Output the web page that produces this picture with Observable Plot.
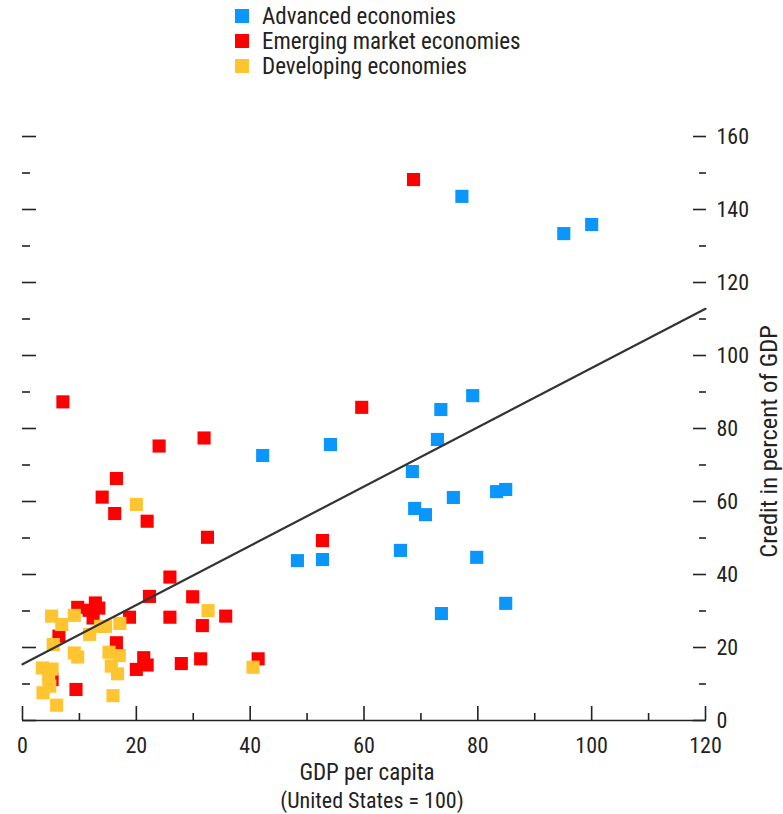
<!DOCTYPE html>
<html>
<head>
<meta charset="utf-8">
<script src="https://cdn.jsdelivr.net/npm/d3@7"></script>
<script src="https://cdn.jsdelivr.net/npm/@observablehq/plot@0.6"></script>
<style>
  html, body { margin: 0; padding: 0; background: #fff; }
  body { width: 783px; height: 814px; overflow: hidden;
         font-family: "Roboto Condensed", "Liberation Sans Narrow", sans-serif; color: #222; }
  #legend { height: 90px; position: relative; }
  .item { position: absolute; left: 235px; display: flex; align-items: center; height: 25px; line-height: 25px; font-size: 23px; white-space: nowrap; }
  .sw { width: 14px; height: 14px; margin-right: 13px; flex: none; }
</style>
</head>
<body>
<div id="legend"></div>
<div id="chart"></div>
<script>
// ---- data ----
const seriesNames = ["Advanced economies", "Emerging market economies", "Developing economies"];
const seriesColors = ["#0A96FA", "#FF0000", "#FFC530"];

const advancedX = [77.2, 95.1, 100, 42.2, 54.1, 73.5, 79.1, 72.9, 68.5, 68.9, 70.8, 75.7, 83.3, 84.9, 66.4, 48.3, 52.7, 79.8, 73.6, 84.9];
const advancedY = [143.6, 133.4, 135.9, 72.6, 75.6, 85.2, 89.0, 77.0, 68.2, 58.1, 56.4, 61.1, 62.7, 63.3, 46.6, 43.8, 44.1, 44.7, 29.3, 32.1];

const emergingX = [68.7, 59.6, 52.7, 7.1, 31.9, 24.0, 16.5, 14.0, 16.2, 21.9, 32.5, 25.9, 22.3, 29.9, 9.7, 12.8, 13.4, 11.7, 12.4, 18.8, 25.9, 35.7, 31.6, 6.4, 16.5, 21.3, 21.9, 20.0, 27.9, 31.3, 41.4, 9.4, 5.2];
const emergingY = [148.2, 85.8, 49.3, 87.3, 77.4, 75.2, 66.3, 61.2, 56.7, 54.6, 50.2, 39.3, 34.0, 33.9, 31.0, 32.2, 30.8, 30.2, 28.1, 28.3, 28.3, 28.6, 26.0, 23.1, 21.3, 17.2, 15.2, 14.0, 15.6, 16.9, 16.9, 8.5, 11.2];

const developingX = [20.0, 32.6, 5.1, 6.9, 9.1, 17.1, 13.7, 14.6, 11.8, 5.4, 9.1, 9.7, 15.2, 17.0, 15.6, 16.7, 3.5, 5.2, 4.6, 4.8, 3.6, 6.0, 15.9, 40.5];
const developingY = [59.2, 30.1, 28.6, 26.3, 28.8, 26.6, 25.8, 25.8, 23.6, 20.8, 18.5, 17.4, 18.7, 17.8, 14.9, 12.8, 14.4, 14.1, 11.4, 9.4, 7.6, 4.2, 6.8, 14.6];

const trendX = [0, 120];
const trendY = [15.4, 112.8];

const xMajor = [0, 20, 40, 60, 80, 100, 120];
const xMinor = [10, 30, 50, 70, 90, 110];
const yMajor = [0, 20, 40, 60, 80, 100, 120, 140, 160];
const yMinor = [10, 30, 50, 70, 90, 110, 130, 150];

const xLabel = ["GDP per capita", "(United States = 100)"];
const yLabel = "Credit in percent of GDP";

// ---- build ----
const FONT = '"Roboto Condensed", "Liberation Sans Narrow", sans-serif';
const toRows = (xs, ys) => xs.map((x, i) => ({x, y: ys[i]}));
const advanced = toRows(advancedX, advancedY);
const emerging = toRows(emergingX, emergingY);
const developing = toRows(developingX, developingY);
const trend = toRows(trendX, trendY);

const legend = document.getElementById("legend");
seriesNames.forEach((name, i) => {
  const d = document.createElement("div");
  d.className = "item";
  d.style.top = (3.5 + i * 25) + "px";
  d.innerHTML = `<span class="sw" style="background:${seriesColors[i]}"></span><span>${name}</span>`;
  legend.appendChild(d);
});

const blank = () => "";
const chart = Plot.plot({
  width: 783,
  height: 724,
  marginTop: 46,
  marginBottom: 94,
  marginLeft: 22,
  marginRight: 78,
  x: {domain: [0, 120]},
  y: {domain: [0, 160]},
  style: {fontFamily: FONT, fontSize: "22px", color: "#222", background: "#fff", overflow: "visible"},
  marks: [
    // x axis
    Plot.axisX({ticks: xMajor, tickSize: 0, tickPadding: 17, label: null, fontSize: 22}),
    Plot.axisX({ticks: xMajor, tickSize: -14, tickFormat: blank, label: null, strokeWidth: 1.6}),
    Plot.axisX({ticks: xMinor, tickSize: -7, tickFormat: blank, label: null, strokeWidth: 1.6}),
    // right y axis
    Plot.axisY({anchor: "right", ticks: yMajor, tickSize: 0, tickPadding: 11, label: null, fontSize: 22}),
    Plot.axisY({anchor: "right", ticks: yMajor, tickSize: -13, tickFormat: blank, label: null, strokeWidth: 1.6}),
    Plot.axisY({anchor: "right", ticks: yMinor, tickSize: -7, tickFormat: blank, label: null, strokeWidth: 1.6}),
    // left y axis (ticks only)
    Plot.axisY({anchor: "left", ticks: yMajor, tickSize: -14, tickFormat: blank, label: null, strokeWidth: 1.6}),
    Plot.axisY({anchor: "left", ticks: yMinor, tickSize: -8, tickFormat: blank, label: null, strokeWidth: 1.6}),
    Plot.ruleY([0], {stroke: "#222", strokeWidth: 1.6}),
    // points
    Plot.dot(advanced, {x: "x", y: "y", symbol: "square", r: 7.4, fill: seriesColors[0]}),
    Plot.dot(emerging, {x: "x", y: "y", symbol: "square", r: 7.4, fill: seriesColors[1]}),
    Plot.dot(developing, {x: "x", y: "y", symbol: "square", r: 7.4, fill: seriesColors[2]}),
    // trend line
    Plot.line(trend, {x: "x", y: "y", stroke: "#333", strokeWidth: 2.2}),
    // axis titles
    Plot.text([xLabel[0]], {frameAnchor: "bottom", text: d => d, lineAnchor: "middle", textAnchor: "middle", dx: 3, dy: 52, fontSize: 23}),
    Plot.text([xLabel[1]], {frameAnchor: "bottom", text: d => d, lineAnchor: "middle", textAnchor: "middle", dx: 8, dy: 80, fontSize: 22}),
    Plot.text([yLabel], {frameAnchor: "right", text: d => d, rotate: -90, lineAnchor: "middle", textAnchor: "middle", dx: 64, dy: 13, fontSize: 24.5})
  ]
});
document.getElementById("chart").appendChild(chart);
</script>
</body>
</html>
